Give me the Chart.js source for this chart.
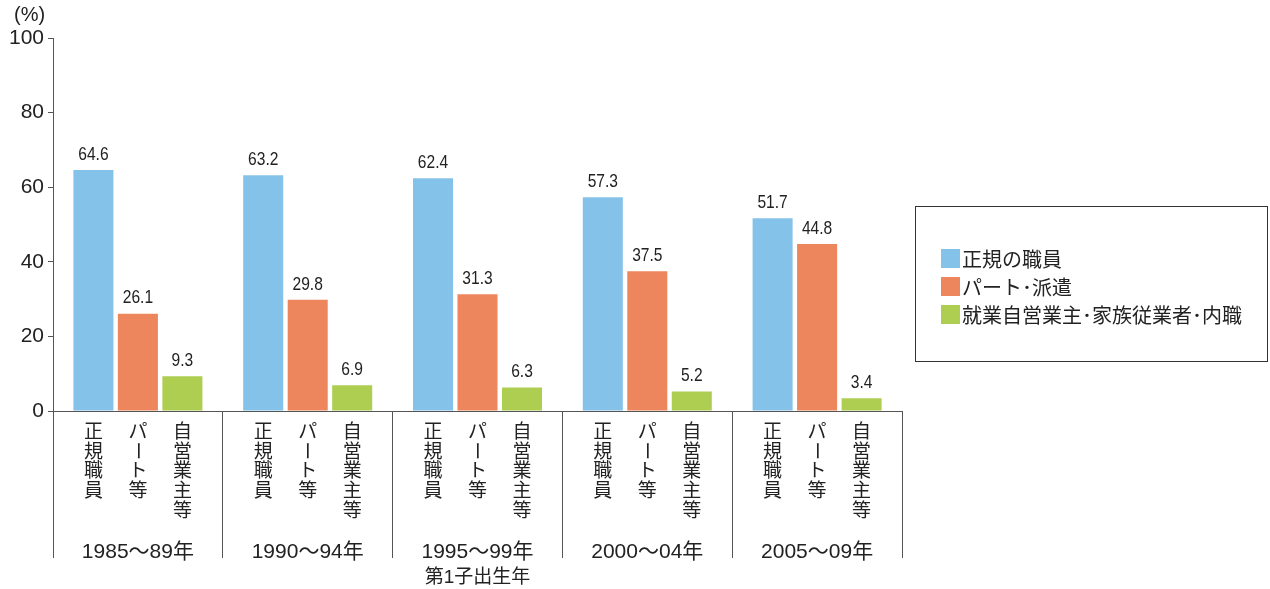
<!DOCTYPE html>
<html><head><meta charset="utf-8">
<script src="https://cdn.jsdelivr.net/npm/chart.js@4"></script>
<style>html,body{margin:0;padding:0;background:#fff}#wrap{width:1270px;height:589px;position:relative}</style>
</head><body><div id="wrap"><canvas id="c"></canvas></div>
<script>
const periods = ['1985～89年','1990～94年','1995～99年','2000～04年','2005～09年'];
const seriesNames = ['正規の職員','パート･派遣','就業自営業主･家族従業者･内職'];
const barLabels = ['正規職員','パート等','自営業主等'];
const regular = [64.6,63.2,62.4,57.3,51.7];
const partTime = [26.1,29.8,31.3,37.5,44.8];
const selfEmp = [9.3,6.9,6.3,5.2,3.4];
const yTicks = [0,20,40,60,80,100];
const axisTitle = '第1子出生年';
const unitLabel = '(%)';
const colors = ['#84C2E9','#EE865D','#AECE52'];

const CJK = '"Noto Sans CJK JP"';
const LAT = '"Liberation Sans", Arial';

const overlay = {
  id: 'overlay',
  afterDraw(chart) {
    const ctx = chart.ctx;
    const ca = chart.chartArea;
    const xs = chart.scales.x;
    ctx.save();
    ctx.fillStyle = '#222';
    // value labels (condensed)
    ctx.font = '19px ' + LAT;
    ctx.textAlign = 'center';
    ctx.textBaseline = 'bottom';
    const sx = 0.82;
    chart.data.datasets.forEach((ds, i) => {
      const meta = chart.getDatasetMeta(i);
      meta.data.forEach((bar, j) => {
        ctx.save();
        ctx.translate(bar.x, bar.y - 6);
        ctx.scale(sx, 1);
        ctx.fillText(ds.data[j].toFixed(1), 0, 0);
        ctx.restore();
      });
    });
    // vertical bar labels
    ctx.font = '19px ' + CJK;
    ctx.textBaseline = 'top';
    const pitch = 19.8;
    chart.data.datasets.forEach((ds, i) => {
      const meta = chart.getDatasetMeta(i);
      const chars = Array.from(barLabels[i]);
      meta.data.forEach((bar) => {
        chars.forEach((ch, k) => {
          const y0 = ca.bottom + 10 + k * pitch;
          if (ch === 'ー') {
            ctx.save();
            ctx.translate(bar.x, y0 + pitch / 2);
            ctx.rotate(Math.PI / 2);
            ctx.textBaseline = 'middle';
            ctx.fillText(ch, 0, 0);
            ctx.restore();
          } else {
            ctx.fillText(ch, bar.x, y0);
          }
        });
      });
    });
    // group labels
    ctx.font = '21px ' + LAT + ', ' + CJK;
    ctx.textBaseline = 'middle';
    periods.forEach((p, j) => {
      ctx.fillText(p, xs.getPixelForValue(j), ca.bottom + 141);
    });
    // unit label
    ctx.font = '20px ' + LAT + ', ' + CJK;
    ctx.textAlign = 'left';
    ctx.fillText(unitLabel, 14, 15);
    // legend box
    ctx.strokeStyle = '#333';
    ctx.lineWidth = 1;
    ctx.strokeRect(915.5, 206.5, 352, 155);
    ctx.font = '20px ' + CJK;
    chart.data.datasets.forEach((ds, i) => {
      const y = 249 + i * 28;
      ctx.fillStyle = ds.backgroundColor;
      ctx.fillRect(941, y, 19, 19);
      ctx.fillStyle = '#222';
      ctx.fillText(ds.label, 962, y + 10);
    });
    ctx.restore();
  }
};

new Chart(document.getElementById('c'), {
  type: 'bar',
  data: {
    labels: periods,
    datasets: [
      {label: seriesNames[0], data: regular, backgroundColor: colors[0]},
      {label: seriesNames[1], data: partTime, backgroundColor: colors[1]},
      {label: seriesNames[2], data: selfEmp, backgroundColor: colors[2]}
    ]
  },
  options: {
    responsive: true,
    maintainAspectRatio: false,
    animation: false,
    events: [],
    layout: {padding: {top: 38, right: 368, bottom: 0, left: 0}},
    datasets: {bar: {categoryPercentage: 0.786, barPercentage: 0.9}},
    plugins: {legend: {display: false}, tooltip: {enabled: false}},
    scales: {
      x: {
        grid: {offset: true, drawOnChartArea: false, drawTicks: true, tickLength: 147, color: '#555', lineWidth: 1},
        border: {display: true, color: '#555', width: 1},
        ticks: {display: false},
        title: {display: true, text: axisTitle, color: '#222', font: {family: LAT + ', ' + CJK, size: 19}, padding: {top: 0, bottom: 0}},
        afterFit(s) { s.height = 178; }
      },
      y: {
        min: 0, max: 100,
        afterBuildTicks(s) { s.ticks = yTicks.map(v => ({value: v})); },
        grid: {drawOnChartArea: false, drawTicks: true, tickLength: 5, color: '#555'},
        border: {display: true, color: '#555', width: 1},
        ticks: {color: '#222', padding: 4, font: {family: LAT, size: 21}},
        afterFit(s) { s.width = 53; }
      }
    }
  },
  plugins: [overlay]
});
</script></body></html>
